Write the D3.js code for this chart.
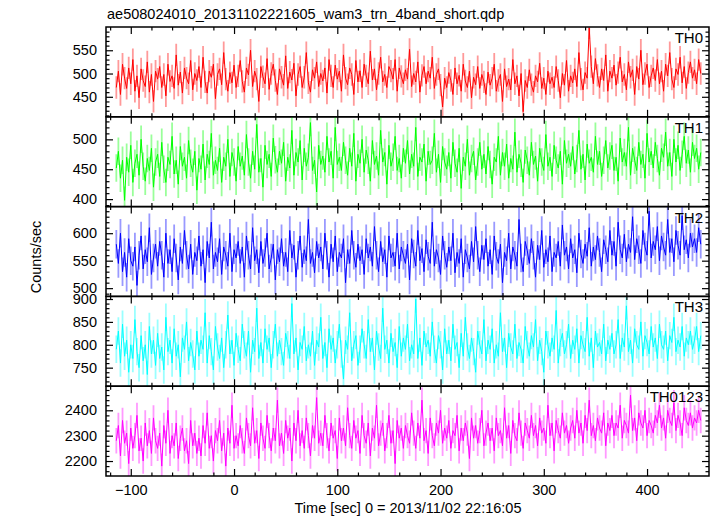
<!DOCTYPE html>
<html><head><meta charset="utf-8">
<script src="https://cdn.jsdelivr.net/npm/d3@7/dist/d3.min.js"></script>
<style>body{margin:0;background:#fff} text{font-family:"Liberation Sans",Arial,Helvetica,sans-serif}</style>
</head><body><svg id="c" width="717" height="516"></svg>
<script>
const chartTitle = "ae508024010_20131102221605_wam3_trn_4band_short.qdp";
const xLabel = "Time [sec] 0 = 2013/11/02 22:16:05";
const yLabel = "Counts/sec";
const timeStart = -114, binSize = 2;

const th0 = [470,505,455,520,490,468,512,478,530,462,495,448,510,485,472,525,460,498,440,505,
488,515,470,498,452,520,483,495,468,540,475,503,458,512,490,478,528,465,500,485,
515,470,535,482,458,505,492,520,446,498,510,476,545,488,462,502,480,518,470,495,
528,483,460,512,497,550,472,505,488,440,515,493,478,532,466,500,520,485,455,510,
492,475,538,468,503,486,522,452,498,515,470,492,545,480,460,508,490,525,472,500,
484,512,458,530,495,470,518,488,505,462,540,490,476,512,498,455,528,482,506,470,
520,495,478,548,486,510,465,500,535,482,498,470,515,505,488,530,462,512,494,478,
508,488,552,472,500,482,525,460,496,515,478,505,490,535,468,498,510,475,428,490,
470,502,485,455,512,478,496,462,520,484,470,505,448,492,476,515,468,498,482,455,
503,475,490,520,462,485,498,440,510,472,488,465,530,478,495,452,500,418,485,470,
508,476,460,495,482,522,468,490,455,505,478,492,470,515,485,448,500,475,528,462,
495,480,510,472,545,488,465,502,490,598,515,478,532,496,470,510,485,540,462,505,
490,518,475,502,535,482,498,465,525,492,508,455,515,488,550,476,500,520,470,495,
512,485,530,478,505,462,520,495,545,488,470,510,498,535,480,515,468,502,525,490,
508,478,530,500];

const th1 = [452,480,435,465,398,470,445,490,428,460,475,440,500,455,430,468,448,485,420,462,
475,438,495,450,428,470,458,505,442,465,425,488,455,470,435,498,460,445,480,415,
468,450,492,432,475,458,510,440,465,448,485,428,470,455,500,438,478,462,430,488,
455,472,440,508,462,435,480,450,525,445,468,420,490,458,475,438,502,466,445,480,
460,495,430,470,452,515,440,478,462,498,432,485,455,470,528,448,465,412,490,458,
472,445,505,462,480,435,520,458,470,448,495,465,440,485,455,510,430,475,460,500,
445,482,465,430,498,458,472,440,515,462,478,425,490,455,470,505,448,468,435,485,
460,498,442,475,455,520,438,470,462,492,430,480,458,465,510,445,475,428,488,462,
450,478,435,495,460,445,485,418,470,455,500,440,468,480,432,462,495,450,475,442,
488,458,425,470,462,505,440,478,455,492,435,468,450,512,445,475,460,428,482,465,
440,495,458,472,430,485,462,448,508,455,470,438,490,465,452,480,425,498,460,475,
455,488,442,468,515,450,475,432,492,460,470,445,505,458,480,438,465,498,452,472,
490,448,470,430,502,462,478,455,520,440,485,465,448,495,458,475,435,510,462,480,
452,495,468,440,485,470,512,455,478,438,500,462,490,448,475,505,460,482,445,495,
468,485,450,478];

const th2 = [580,545,600,530,565,520,590,550,540,575,505,560,595,535,570,548,610,525,555,580,
540,585,560,520,600,545,570,530,590,555,515,575,545,605,560,535,580,525,565,550,
595,540,570,510,585,555,620,535,565,548,590,525,575,560,540,600,530,570,555,585,
545,575,520,595,560,535,610,550,570,528,585,545,565,600,535,555,580,515,570,548,
590,540,565,530,605,555,578,520,560,595,538,570,550,625,545,565,528,585,555,575,
535,600,560,520,580,548,595,530,565,555,590,510,570,545,605,560,538,580,550,570,
525,590,555,575,540,612,560,530,585,548,570,520,595,555,565,540,600,535,575,560,
545,580,515,590,562,540,605,550,572,530,588,558,545,620,540,570,555,525,595,560,
538,575,550,600,528,565,545,590,520,570,555,535,585,548,612,560,530,578,552,590,
540,570,525,595,558,545,580,510,565,550,600,535,575,560,540,625,555,530,585,568,
545,590,560,520,578,552,605,538,570,548,595,530,565,555,585,540,615,560,575,535,
590,555,570,528,600,562,545,580,558,610,540,575,552,595,565,530,588,570,548,605,
560,585,540,620,570,555,598,548,580,565,630,552,590,570,545,605,575,560,640,555,
585,570,612,550,595,575,560,625,565,590,548,605,578,560,632,570,588,555,600,575,
590,565,610,580];

const th3 = [790,830,760,845,775,810,740,800,770,855,785,750,820,765,800,735,840,780,810,755,
825,770,795,745,860,785,810,760,835,775,800,730,815,790,850,765,805,780,745,830,
775,810,790,870,760,820,785,745,840,795,770,815,750,800,865,780,810,755,825,790,
765,845,800,775,830,740,810,785,880,770,805,760,835,790,815,750,800,845,775,810,
785,755,825,800,770,890,780,815,745,805,790,840,765,800,775,830,755,810,795,860,
770,805,750,835,790,815,760,800,845,780,725,810,790,870,765,800,820,755,790,835,
800,770,855,785,815,745,830,795,770,880,790,810,760,825,785,805,750,840,775,815,
790,845,765,800,780,900,770,815,755,830,795,810,775,850,790,760,820,800,745,835,
780,810,765,845,790,805,750,825,775,860,795,770,815,785,740,830,800,780,855,765,
810,790,835,760,800,775,870,785,815,750,825,795,780,845,770,805,790,760,840,800,
775,820,795,855,765,810,785,740,830,800,775,815,790,875,760,805,825,780,800,845,
770,810,790,835,760,820,800,785,860,775,815,750,830,795,805,780,845,765,810,790,
825,780,800,855,770,815,795,885,785,810,760,835,800,790,850,775,820,805,780,840,
795,815,770,845,800,790,830,765,820,805,860,785,810,795,840,775,815,800,830,790,
810,840,785,820];

const th0123 = [2280,2340,2220,2360,2270,2310,2190,2330,2250,2300,2380,2240,2290,2200,2350,2260,2320,2230,2370,2280,
2250,2310,2180,2340,2270,2400,2230,2300,2260,2350,2210,2290,2330,2240,2280,2190,2360,2260,2310,2230,
2290,2220,2340,2270,2390,2250,2300,2200,2320,2280,2360,2240,2310,2180,2330,2270,2420,2250,2300,2260,
2340,2280,2230,2370,2300,2260,2410,2270,2320,2210,2350,2290,2250,2380,2300,2240,2330,2280,2440,2260,
2310,2230,2360,2290,2330,2200,2350,2280,2400,2260,2320,2250,2370,2300,2220,2340,2290,2450,2270,2310,
2260,2380,2300,2240,2350,2290,2320,2210,2370,2280,2330,2260,2410,2300,2250,2360,2290,2320,2230,2380,
2300,2270,2350,2220,2330,2290,2420,2260,2310,2350,2240,2300,2380,2270,2320,2190,2360,2290,2330,2250,
2340,2300,2270,2390,2310,2250,2350,2290,2440,2280,2320,2230,2370,2300,2260,2350,2310,2400,2270,2330,
2290,2360,2250,2320,2300,2380,2240,2330,2280,2350,2310,2210,2370,2290,2340,2270,2320,2400,2260,2310,
2350,2280,2330,2240,2370,2300,2320,2260,2410,2290,2340,2230,2360,2300,2280,2390,2310,2250,2350,2320,
2290,2380,2300,2340,2260,2370,2310,2330,2270,2420,2300,2350,2240,2360,2320,2290,2390,2310,2340,2270,
2330,2360,2290,2400,2310,2350,2270,2380,2320,2440,2300,2340,2280,2370,2330,2310,2390,2260,2350,2320,
2380,2300,2350,2330,2420,2290,2360,2340,2310,2460,2320,2370,2280,2390,2350,2330,2400,2300,2360,2340,
2310,2380,2350,2420,2330,2370,2290,2400,2360,2340,2430,2320,2380,2350,2300,2410,2360,2340,2390,2330,
2370,2350,2400,2360];

const panelNames = ["TH0","TH1","TH2","TH3","TH0123"];
const panelSeries = [th0, th1, th2, th3, th0123];
const panelColors = ["#ff0000","#00ff00","#0000ff","#00ffff","#ff00ff"];
const panelDomains = [[407,600],[387.5,537.7],[485,648.4],[709.5,905.7],[2141,2495]];
const panelMajorTicks = [[450,500,550],[400,450,500],[500,550,600],[750,800,850,900],[2200,2300,2400]];
const panelMinorStep = [10,10,10,10,20];
const panelErrors = [24,23,26,30,50];
const xDomain = [-124, 460];
const xMajorTicks = [-100,0,100,200,300,400];
const xMinorStep = 20;

const svg = d3.select("#c");
const left = 106, right = 709, top0 = 27, ph = 89.8;
const x = d3.scaleLinear().domain(xDomain).range([left, right]);
const fs = 14.5;

svg.append("text").attr("x", 107).attr("y", 19).attr("font-size", fs).text(chartTitle);

const xMinor = d3.range(Math.ceil(xDomain[0]/xMinorStep)*xMinorStep, xDomain[1], xMinorStep)
  .filter(v => !xMajorTicks.includes(v));

panelSeries.forEach((vals, p) => {
  const pt = top0 + p*ph, pb = pt + ph;
  const y = d3.scaleLinear().domain(panelDomains[p]).range([pb, pt]);
  const g = svg.append("g");
  const cid = "clip" + p;
  svg.append("clipPath").attr("id", cid).append("rect")
    .attr("x", left).attr("y", pt).attr("width", right-left).attr("height", ph);
  const data = vals.map((v,i) => ({t: timeStart + i*binSize, v}));
  const err = panelErrors[p];
  const dg = g.append("g").attr("clip-path", `url(#${cid})`);
  dg.selectAll("line.err").data(data).join("line")
    .attr("x1", d => x(d.t)).attr("x2", d => x(d.t))
    .attr("y1", d => y(d.v - err)).attr("y2", d => y(d.v + err))
    .attr("stroke", panelColors[p]).attr("stroke-opacity", 0.4).attr("stroke-width", 1.8);
  dg.append("path").datum(data)
    .attr("d", d3.line().x(d => x(d.t)).y(d => y(d.v)))
    .attr("fill","none").attr("stroke", panelColors[p]).attr("stroke-width", 1);

  g.append("rect").attr("x", left).attr("y", pt).attr("width", right-left).attr("height", ph)
    .attr("fill","none").attr("stroke","#000").attr("stroke-width",1.5);

  const dom = panelDomains[p];
  const yMinor = d3.range(Math.ceil(dom[0]/panelMinorStep[p])*panelMinorStep[p], dom[1], panelMinorStep[p])
    .filter(v => !panelMajorTicks[p].includes(v));

  const styleAxis = sel => { sel.select(".domain").remove(); sel.selectAll("line").attr("stroke","#000").attr("stroke-width",1.2); };

  g.append("g").attr("transform", `translate(${left},0)`)
    .call(d3.axisLeft(y).tickValues(panelMajorTicks[p]).tickSize(-7).tickPadding(9).tickFormat(d3.format("d")))
    .call(styleAxis)
    .selectAll("text").attr("font-size", fs).attr("fill","#000").attr("font-family",'"Liberation Sans",Arial,sans-serif');
  g.append("g").attr("transform", `translate(${left},0)`)
    .call(d3.axisLeft(y).tickValues(yMinor).tickSize(-3.5).tickFormat("")).call(styleAxis);
  g.append("g").attr("transform", `translate(${right},0)`)
    .call(d3.axisRight(y).tickValues(panelMajorTicks[p]).tickSize(-7).tickFormat("")).call(styleAxis);
  g.append("g").attr("transform", `translate(${right},0)`)
    .call(d3.axisRight(y).tickValues(yMinor).tickSize(-3.5).tickFormat("")).call(styleAxis);

  const bottomAxis = d3.axisBottom(x).tickValues(xMajorTicks).tickSize(-7).tickPadding(9);
  if (p < panelSeries.length - 1) bottomAxis.tickFormat("");
  const bx = g.append("g").attr("transform", `translate(0,${pb})`).call(bottomAxis).call(styleAxis);
  bx.selectAll("text").attr("font-size", fs).attr("fill","#000").attr("font-family",'"Liberation Sans",Arial,sans-serif');
  g.append("g").attr("transform", `translate(0,${pb})`)
    .call(d3.axisBottom(x).tickValues(xMinor).tickSize(-3.5).tickFormat("")).call(styleAxis);
  g.append("g").attr("transform", `translate(0,${pt})`)
    .call(d3.axisTop(x).tickValues(xMajorTicks).tickSize(-7).tickFormat("")).call(styleAxis);
  g.append("g").attr("transform", `translate(0,${pt})`)
    .call(d3.axisTop(x).tickValues(xMinor).tickSize(-3.5).tickFormat("")).call(styleAxis);

  g.append("text").attr("x", 703).attr("y", pt + 16).attr("text-anchor","end")
    .attr("font-size", 15).text(panelNames[p]);
});

svg.append("text").attr("transform","translate(41,257) rotate(-90)").attr("text-anchor","middle")
  .attr("font-size", fs).text(yLabel);
svg.append("text").attr("x", 408).attr("y", 513).attr("text-anchor","middle")
  .attr("font-size", fs).text(xLabel);
</script></body></html>
